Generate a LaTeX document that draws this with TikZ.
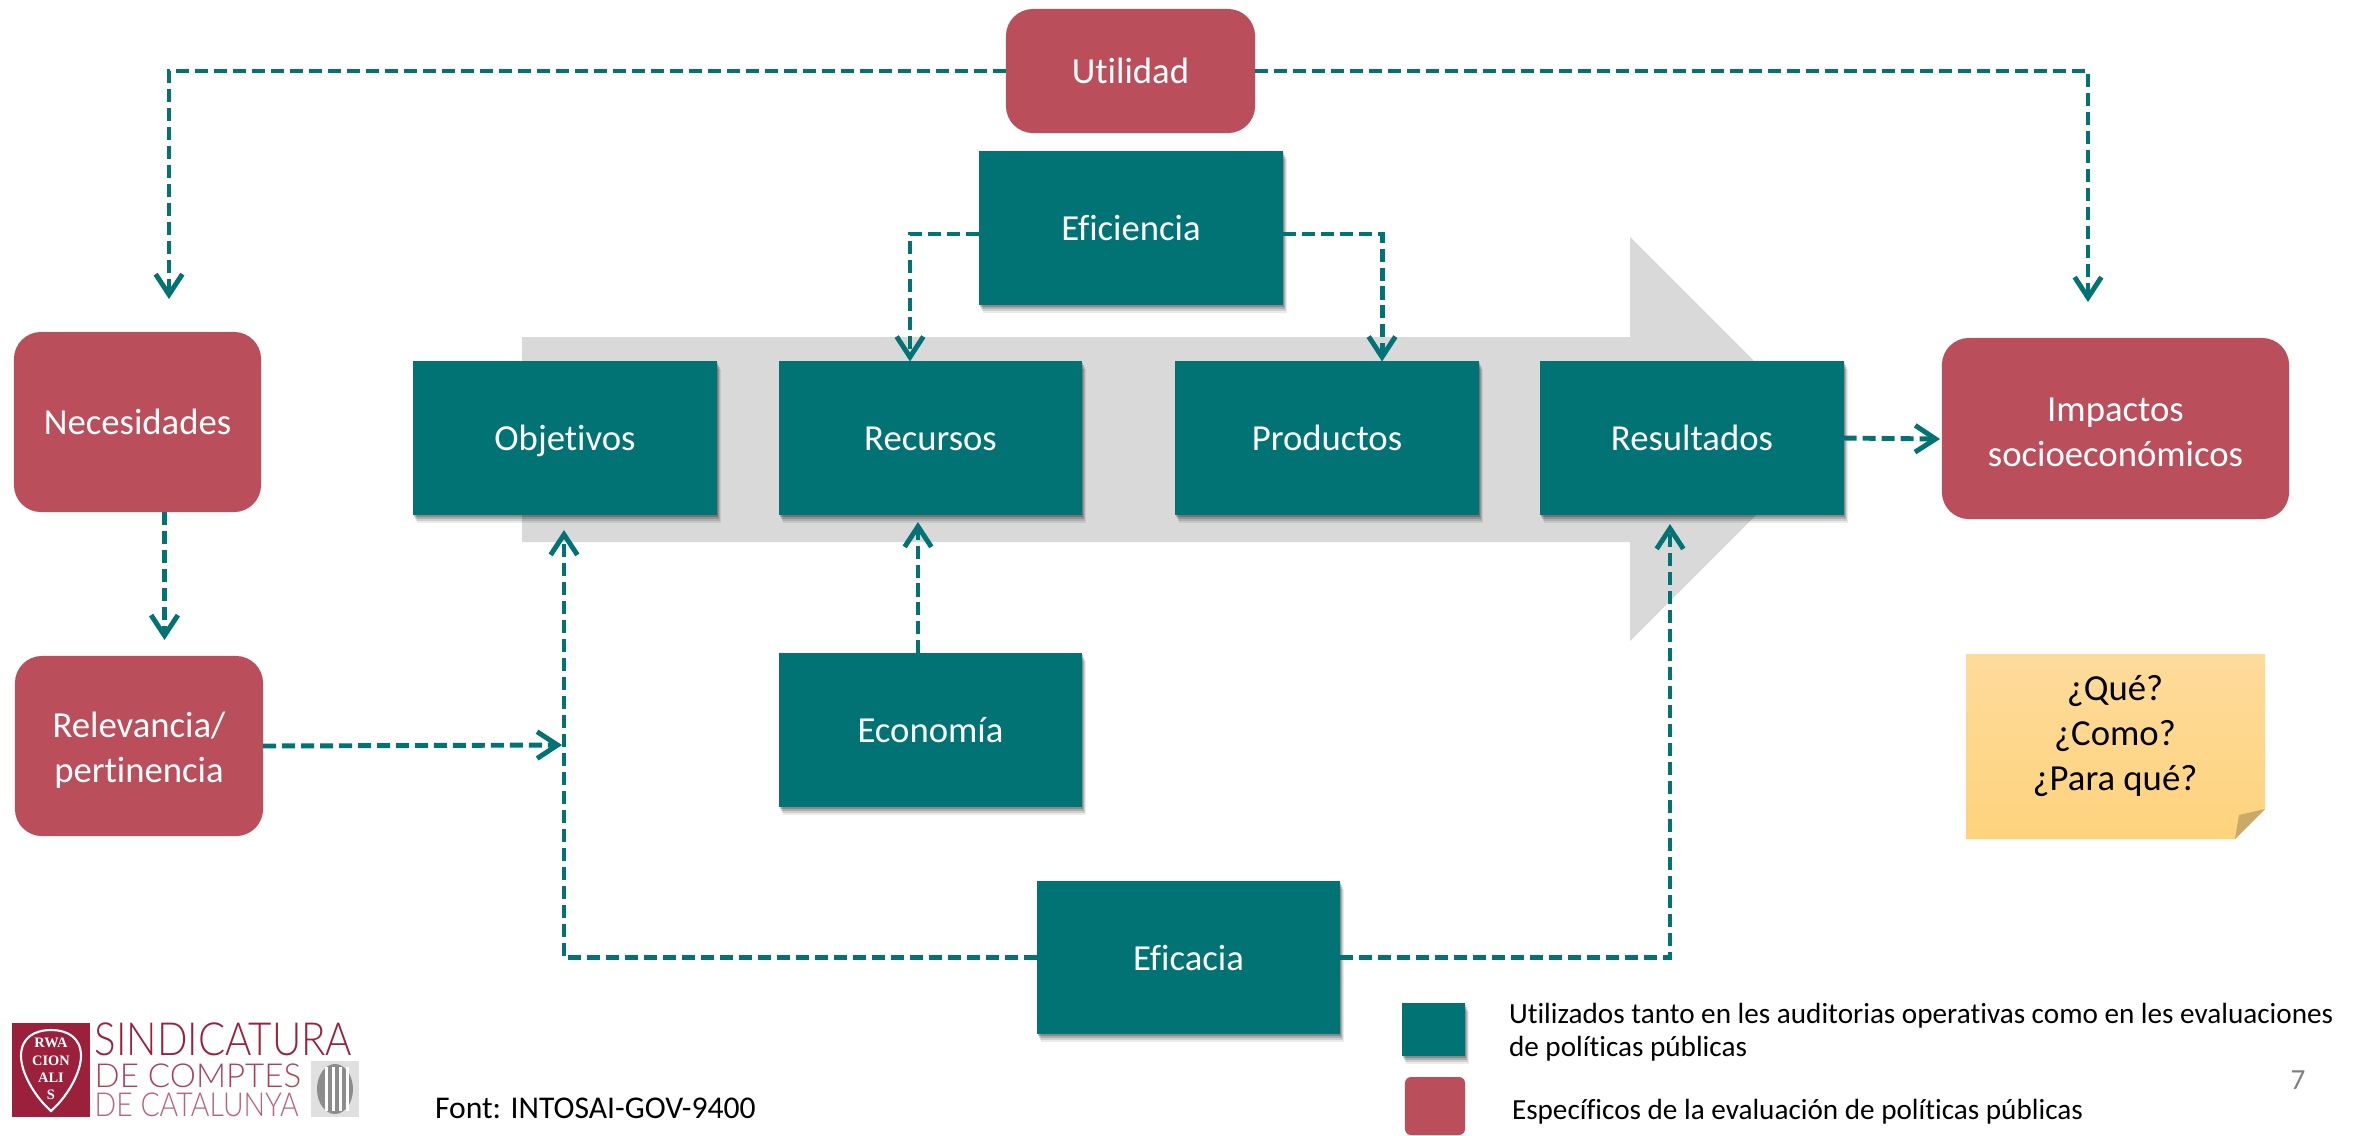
\documentclass[tikz,border=0pt]{standalone}
\usepackage{fontspec}
\setmainfont[Ligatures={NoCommon}]{Carlito}
\newfontfamily\logofont{Lato Light}
\newfontfamily\shieldfont{Liberation Serif}
\usetikzlibrary{arrows.meta,shadows}
\definecolor{tealbox}{RGB}{1,115,117}
\definecolor{redbox}{RGB}{186,78,90}
\definecolor{arrowgrey}{RGB}{217,217,217}
\definecolor{logored}{RGB}{155,32,60}
\definecolor{notetop}{RGB}{254,219,155}
\definecolor{notebottom}{RGB}{254,211,125}
\definecolor{notefold}{RGB}{201,170,105}
\newcommand{\lifted}{\rule{0pt}{9.6pt}}
\tikzset{
  teal node/.style={fill=tealbox, text=white, inner sep=0pt, outer sep=0pt,
    minimum width=3.03cm, minimum height=1.53cm, text height=9pt, text depth=1.8pt,
    font=\fontsize{10.44}{12.8}\selectfont,
    drop shadow={shadow xshift=0.04cm, shadow yshift=-0.08cm, opacity=.08, fill=black},
    drop shadow={shadow xshift=0.03cm, shadow yshift=-0.06cm, opacity=.12, fill=black},
    drop shadow={shadow xshift=0.02cm, shadow yshift=-0.04cm, opacity=.16, fill=black},
    drop shadow={shadow xshift=0.01cm, shadow yshift=-0.02cm, opacity=.2, fill=black}},
  red node/.style={fill=redbox, text=white, inner sep=0pt, outer sep=0pt, rounded corners=0.27cm,
    align=center, font=\fontsize{10.44}{12.8}\selectfont},
  note text/.style={inner sep=0pt, outer sep=0pt, font=\fontsize{8.3}{9.4}\selectfont},
  flow/.style={draw=tealbox, line width=1.4pt, dash pattern=on 3.7pt off 1.7pt,
    -{Straight Barb[length=5.8pt, width=7.6pt, line width=1.4pt]}}
}
\begin{document}
\begin{tikzpicture}[x=0.01cm, y=-0.01cm]
\useasboundingbox (0,0) rectangle (2366,1135);
% grey arrow
\fill[arrowgrey] (522,337) -- (1630,337) -- (1630,237) -- (1832,439) -- (1630,641) -- (1630,542) -- (522,542) -- cycle;
% boxes
\node[teal node] (objetivos) at (565,438) {Objetivos};
\node[teal node] (recursos) at (930.5,438) {Recursos};
\node[teal node] (productos) at (1327,438) {Productos};
\node[teal node] (resultados) at (1692,438) {Resultados};
\node[teal node] (eficiencia) at (1131,228) {Eficiencia};
\node[teal node] (economia) at (930.5,730) {Economía};
\node[teal node] (eficacia) at (1188.5,957.5) {Eficacia};
\node[red node, minimum width=2.49cm, minimum height=1.24cm] (utilidad) at (1130.5,71) {Utilidad};
\node[red node, minimum width=2.47cm, minimum height=1.80cm] (necesidades) at (137.5,422) {\rule{0pt}{7.4pt}Necesidades};
\node[red node, minimum width=2.48cm, minimum height=1.80cm] (relevancia) at (139,746) {\lifted Relevancia/\\pertinencia};
\node[red node, minimum width=3.47cm, minimum height=1.81cm] (impactos) at (2115.5,428.5) {\rule{0pt}{8.8pt}Impactos\\socioeconómicos};
% end points of the connectors
\coordinate (necTop) at (169,299);
\coordinate (impTop) at (2088,302);
\coordinate (relEnd) at (164.5,640);
\coordinate (objEnd) at (562,745);
\coordinate (objUp) at (564,530);
\coordinate (resUp) at (1670,524);
\coordinate (recUp) at (918,522);
\coordinate (impEnd) at (1940,439);
% connectors
\draw[flow] (utilidad.west) -| (necTop);
\draw[flow] (utilidad.east) -| (impTop);
\draw[flow] ([yshift=-0.06cm]eficiencia.west) -| ([xshift=-0.205cm]recursos.north);
\draw[flow] ([yshift=-0.06cm]eficiencia.east) -| ([xshift=0.55cm]productos.north);
\draw[flow] (necesidades.south -| relEnd) -- (relEnd);
\draw[flow] (relevancia.east) -- (objEnd);
\draw[flow] (eficacia.west) -| (objUp);
\draw[flow] (eficacia.east) -| (resUp);
\draw[flow] (economia.north -| recUp) -- (recUp);
\draw[flow] (resultados.east) -- (impEnd);
% note
\shade[top color=notetop, bottom color=notebottom]
  (1966,654) -- (2265,654) -- (2265,809) -- (2235,839) -- (1966,839) -- cycle;
\fill[notefold] (2235,839) -- (2265,809) -- (2239,815) -- cycle;
\node[align=center, inner sep=0pt, font=\fontsize{10.44}{12.8}\selectfont] (pregunta) at (2115,736) {¿Qué?\\¿Como?\\¿Para qué?};
% legend
\node[teal node, minimum width=0.63cm, minimum height=0.53cm] (legteal) at (1433.5,1029.5) {};
\node[red node, rounded corners=0.06cm, minimum width=0.60cm, minimum height=0.58cm] (legred) at (1435,1106) {};
\node[note text, anchor=west, align=left] (legtealtext) at (1509,1032.5) {Utilizados tanto en les auditorias operativas como en les evaluaciones\\de políticas públicas};
\node[note text, anchor=west] (legredtext) at (1512,1112) {Específicos de la evaluación de políticas públicas};
\node[note text, font=\fontsize{9}{10}\selectfont, anchor=base west] (fuente) at (435,1118) {Font: INTOSAI-GOV-9400};
\node[note text, text=black!50, anchor=center] (pagina) at (2298,1080) {7};
% logo
\fill[logored] (12,1023) rectangle (90,1117);
\draw[white, line width=0.6pt] (51,1111) .. controls (34,1096) and (21,1072) .. (21,1056) .. controls (21,1038) and (34,1030) .. (51,1030) .. controls (68,1030) and (81,1038) .. (81,1056) .. controls (81,1072) and (68,1096) .. (51,1111) -- cycle;
\node[text=white, align=center, inner sep=0pt, font=\shieldfont\bfseries\fontsize{4.1}{4.9}\selectfont] (lema) at (51,1069) {RWA\\CION\\ALI\\S};
\node[text=logored, inner sep=0pt, anchor=base west, font=\logofont\fontsize{13}{13}\selectfont] (sind) at (94,1055) {\scalebox{.88}[1]{SINDICATURA}};
\node[text=logored!85, inner sep=0pt, anchor=base west, font=\logofont\fontsize{9.4}{9.4}\selectfont] (comp) at (94,1087) {\scalebox{1}[1]{DE COMPTES}};
\node[text=logored!70, inner sep=0pt, anchor=base west, font=\logofont\fontsize{9.4}{9.4}\selectfont] (cata) at (94,1116) {\scalebox{.86}[1]{DE CATALUNYA}};
\fill[black!12] (311,1061) rectangle (359,1117);
\fill[black!45] (335,1089) ellipse (18 and 25);
\foreach \x in {325,332,339,346} {
  \fill[white] (\x,1067) rectangle (\x+3,1111);
}
\end{tikzpicture}
\end{document}
